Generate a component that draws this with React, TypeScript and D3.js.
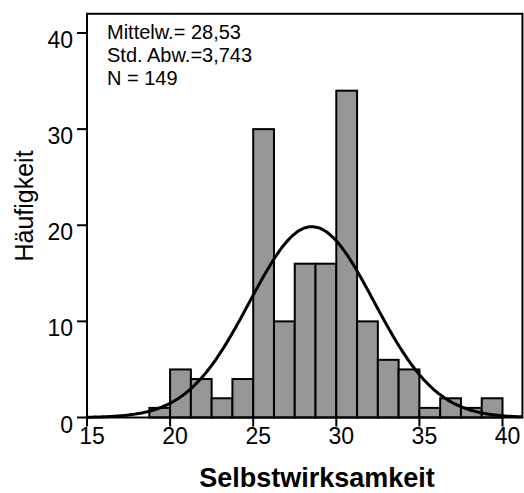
import * as d3 from "d3";

// histogram bins (lower edge) and counts, bin width 1.25
const binStarts = [18.75, 20, 21.25, 22.5, 23.75, 25, 26.25, 27.5, 28.75, 30, 31.25, 32.5, 33.75, 35, 36.25, 37.5, 38.75];
const counts = [1, 5, 4, 2, 4, 30, 10, 16, 16, 34, 10, 6, 5, 1, 2, 1, 2];
const binWidth = 1.25;

const xTicks = [15, 20, 25, 30, 35, 40];
const yTicks = [0, 10, 20, 30, 40];

const mean = 28.53;
const sd = 3.743;
const n = 149;
const statLines = ["Mittelw.= 28,53", "Std. Abw.=3,743", "N = 149"];

const font = "'Liberation Sans', Arial, sans-serif";

export default function App() {
  const width = 524;
  const height = 493;
  const x = d3.scaleLinear().domain([15, 40]).range([87, 502.5]);
  const y = d3.scaleLinear().domain([0, 40]).range([417.5, 33]);
  const xMax = 41.2;
  const yMax = 42;

  // fitted normal curve from the shown statistics
  const pdf = (v: number) => (n * binWidth) / (sd * Math.sqrt(2 * Math.PI)) * Math.exp(-0.5 * ((v - mean) / sd) ** 2);
  const curvePts = d3.range(15, xMax + 0.001, 0.1).map((v) => [v, pdf(v)] as [number, number]);
  const line = d3.line<[number, number]>().x((d) => x(d[0])).y((d) => y(d[1])).curve(d3.curveBasis);

  return (
    <svg width={width} height={height} style={{ position: "absolute", left: 0, top: 0, background: "#fff" }} fontFamily={font}>
      {binStarts.map((b, i) => (
        <rect
          key={b}
          x={x(b)}
          y={y(counts[i])}
          width={x(b + binWidth) - x(b)}
          height={y(0) - y(counts[i])}
          fill="#979797"
          stroke="#000"
          strokeWidth={2}
        />
      ))}
      <path d={line(curvePts) ?? undefined} fill="none" stroke="#000" strokeWidth={3} />
      <rect x={x(15)} y={y(yMax)} width={x(xMax) - x(15)} height={y(0) - y(yMax)} fill="none" stroke="#000" strokeWidth={2} />
      {yTicks.map((t) => (
        <g key={t}>
          <line x1={x(15) - 10} x2={x(15)} y1={y(t)} y2={y(t)} stroke="#000" strokeWidth={2} />
          <text x={x(15) - 14} y={y(t) + 15} textAnchor="end" fontSize={23}>{t}</text>
        </g>
      ))}
      {xTicks.map((t) => (
        <g key={t}>
          <line x1={x(t)} x2={x(t)} y1={y(0)} y2={y(0) + 9} stroke="#000" strokeWidth={2} />
          <text x={x(t) + 5} y={444} textAnchor="middle" fontSize={23}>{t}</text>
        </g>
      ))}
      {statLines.map((s, i) => (
        <text key={s} x={107} y={38.5 + i * 23.3} fontSize={20}>{s}</text>
      ))}
      <text x={317} y={487} textAnchor="middle" fontSize={27} fontWeight="bold">Selbstwirksamkeit</text>
      <text transform={`translate(33, ${206}) rotate(-90)`} textAnchor="middle" fontSize={25}>Häufigkeit</text>
    </svg>
  );
}
